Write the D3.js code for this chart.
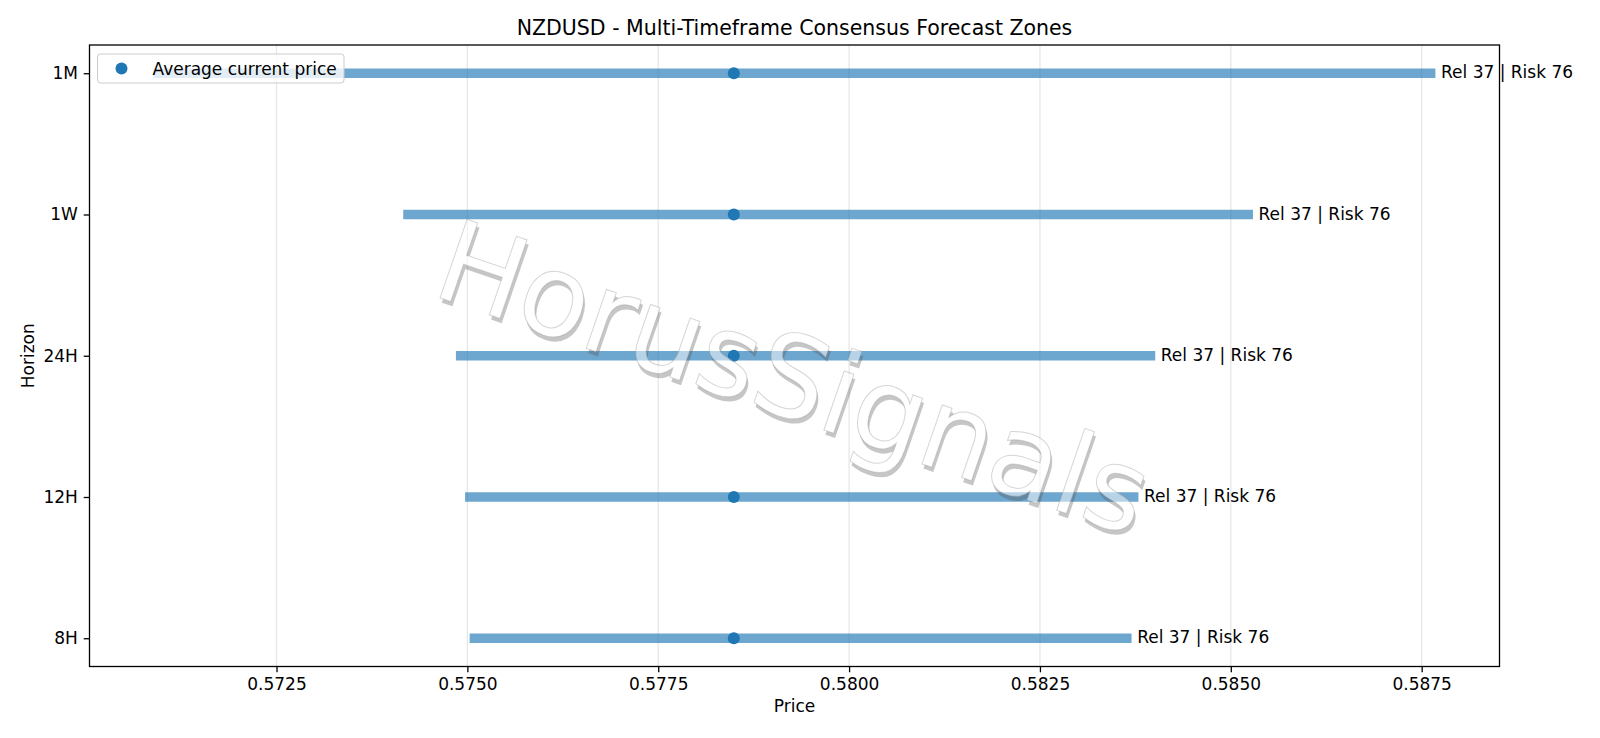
<!DOCTYPE html>
<html>
<head>
<meta charset="utf-8">
<script src="https://cdn.jsdelivr.net/npm/d3@7"></script>
<style>
  body { margin: 0; background: #fff; }
  svg text { font-family: "DejaVu Sans", sans-serif; }
</style>
</head>
<body>
<svg id="chart" width="1600" height="738"></svg>
<script>
// forecast zones per horizon (bottom to top)
const horizons = ["8H", "12H", "24H", "1W", "1M"];
const zoneLow = [0.57503, 0.57497, 0.57485, 0.57416, 0.57089];
const zoneHigh = [0.58370, 0.58379, 0.58401, 0.58529, 0.58768];
const currentPrice = [0.57849, 0.57849, 0.57849, 0.57849, 0.57849];
const reliability = [37, 37, 37, 37, 37];
const risk = [76, 76, 76, 76, 76];
const xTicks = [0.5725, 0.5750, 0.5775, 0.5800, 0.5825, 0.5850, 0.5875];

const plot = { left: 89.5, right: 1499.5, top: 45, bottom: 666.5 };
const blue = "#1f77b4";
const fs = "17px";

const svg = d3.select("#chart");

// x range with 5% padding, like matplotlib autoscale
const lo = d3.min(zoneLow), hi = d3.max(zoneHigh);
const pad = (hi - lo) * 0.05;
const x = d3.scaleLinear()
    .domain([lo - pad, hi + pad])
    .range([plot.left, plot.right]);

const y = d3.scalePoint()
    .domain(horizons)
    .range([plot.bottom, plot.top])
    .padding(0.2);

const rows = horizons.map((h, i) => ({
    h: h, low: zoneLow[i], high: zoneHigh[i], cur: currentPrice[i],
    rel: reliability[i], risk: risk[i]
}));

// vertical grid
svg.append("g")
    .selectAll("line")
    .data(xTicks)
    .join("line")
    .attr("x1", d => x(d)).attr("x2", d => x(d))
    .attr("y1", plot.top).attr("y2", plot.bottom)
    .attr("stroke", "#b0b0b0")
    .attr("stroke-opacity", 0.3)
    .attr("stroke-width", 1.3);

// zone bars
svg.append("g")
    .selectAll("line")
    .data(rows)
    .join("line")
    .attr("x1", d => x(d.low)).attr("x2", d => x(d.high))
    .attr("y1", d => y(d.h)).attr("y2", d => y(d.h))
    .attr("stroke", blue)
    .attr("stroke-opacity", 0.65)
    .attr("stroke-width", 9.5);

// current price markers
svg.append("g")
    .selectAll("circle")
    .data(rows)
    .join("circle")
    .attr("cx", d => x(d.cur))
    .attr("cy", d => y(d.h))
    .attr("r", 6)
    .attr("fill", blue);

// labels at the end of each zone
svg.append("g")
    .selectAll("text")
    .data(rows)
    .join("text")
    .attr("x", d => x(d.high) + 5.6)
    .attr("y", d => y(d.h) + 5)
    .attr("font-size", fs)
    .attr("fill", "#000")
    .text(d => `Rel ${d.rel} | Risk ${d.risk}`);

// watermark: shadow masked out under the letters, then white letters
const wmText = "HorusSignals";
const wmTf = "translate(794,378) rotate(19)";
const defs = svg.append("defs");
const mask = defs.append("mask").attr("id", "wmMask")
    .attr("maskUnits", "userSpaceOnUse")
    .attr("x", 0).attr("y", 0).attr("width", 1600).attr("height", 738);
mask.append("rect").attr("width", 1600).attr("height", 738).attr("fill", "#fff");
mask.append("g").attr("transform", wmTf)
    .append("text")
    .attr("text-anchor", "middle")
    .attr("dominant-baseline", "central")
    .attr("font-size", "114px")
    .attr("fill", "#000")
    .text(wmText);

svg.append("g").attr("mask", "url(#wmMask)")
    .append("g").attr("transform", wmTf)
    .append("text")
    .attr("x", 3).attr("y", 4)
    .attr("text-anchor", "middle")
    .attr("dominant-baseline", "central")
    .attr("font-size", "114px")
    .attr("fill", "#4d4d4d")
    .attr("fill-opacity", 0.32)
    .text(wmText);
svg.append("g").attr("transform", wmTf)
    .append("text")
    .attr("text-anchor", "middle")
    .attr("dominant-baseline", "central")
    .attr("font-size", "114px")
    .attr("fill", "#fff")
    .attr("fill-opacity", 0.5)
    .attr("stroke", "#999")
    .attr("stroke-opacity", 0.4)
    .attr("stroke-width", 1)
    .text(wmText);

// axes
const xAxis = svg.append("g")
    .attr("transform", `translate(0,${plot.bottom})`)
    .call(d3.axisBottom(x).tickValues(xTicks).tickFormat(d3.format(".4f")).tickSize(5.8).tickPadding(5.8));
const yAxis = svg.append("g")
    .attr("transform", `translate(${plot.left},0)`)
    .call(d3.axisLeft(y).tickSize(5.8).tickPadding(5.8));
[xAxis, yAxis].forEach(a => {
    a.select(".domain").remove();
    a.selectAll("line").attr("stroke", "#000").attr("stroke-width", 1.3);
    a.selectAll("text").attr("font-size", fs).attr("fill", "#000")
        .attr("font-family", "DejaVu Sans, sans-serif");
});

// frame
svg.append("rect")
    .attr("x", plot.left).attr("y", plot.top)
    .attr("width", plot.right - plot.left)
    .attr("height", plot.bottom - plot.top)
    .attr("fill", "none")
    .attr("stroke", "#000")
    .attr("stroke-width", 1.3);

// legend
const lg = svg.append("g").attr("transform", "translate(97.5,54)");
lg.append("rect")
    .attr("width", 246.5).attr("height", 29)
    .attr("rx", 3)
    .attr("fill", "#fff").attr("fill-opacity", 0.8)
    .attr("stroke", "#cccccc").attr("stroke-width", 1);
lg.append("circle")
    .attr("cx", 24).attr("cy", 14.5).attr("r", 6)
    .attr("fill", blue);
lg.append("text")
    .attr("x", 55).attr("y", 20.5)
    .attr("font-size", fs)
    .text("Average current price");

// titles
svg.append("text")
    .attr("x", (plot.left + plot.right) / 2).attr("y", 34.5)
    .attr("text-anchor", "middle")
    .attr("font-size", "20.5px")
    .text("NZDUSD - Multi-Timeframe Consensus Forecast Zones");
svg.append("text")
    .attr("x", (plot.left + plot.right) / 2).attr("y", 712)
    .attr("text-anchor", "middle")
    .attr("font-size", fs)
    .text("Price");
svg.append("text")
    .attr("transform", `translate(34,${(plot.top + plot.bottom) / 2}) rotate(-90)`)
    .attr("text-anchor", "middle")
    .attr("font-size", fs)
    .text("Horizon");
</script>
</body>
</html>
